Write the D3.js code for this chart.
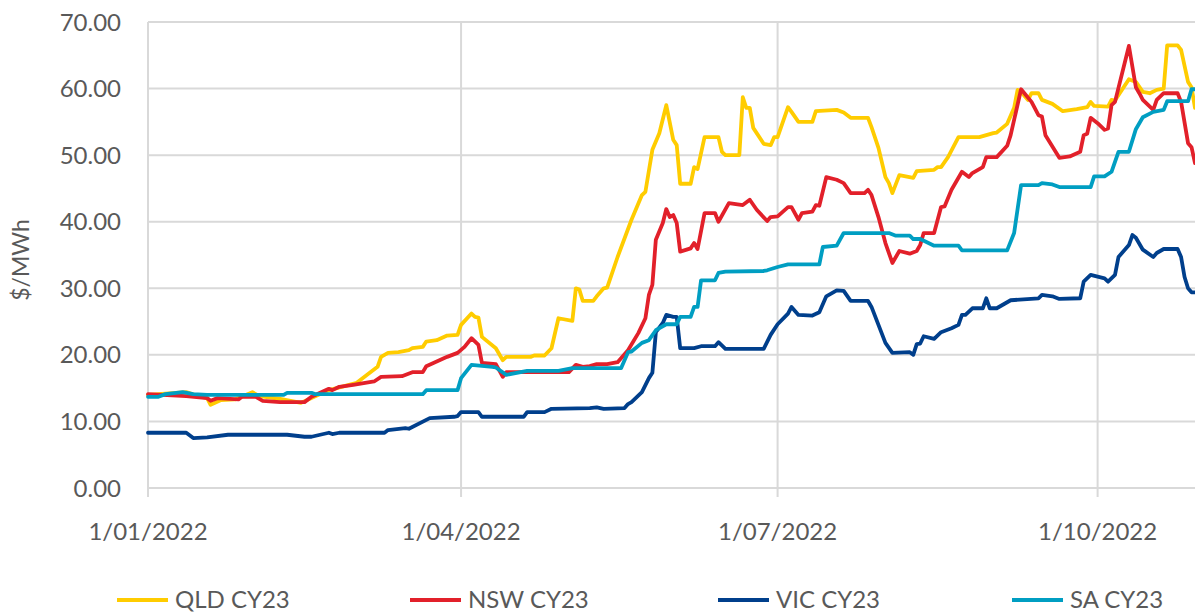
<!DOCTYPE html>
<html>
<head>
<meta charset="utf-8">
<script src="https://cdn.jsdelivr.net/npm/d3@7"></script>
<style>
  body { margin: 0; background: #ffffff; }
  svg text { font-family: Lato, "Open Sans", sans-serif; fill: #595959; }
</style>
</head>
<body>
<div id="chart"></div>
<script>
// days counted from 1/01/2022
const qldDay = [0, 6, 11, 14, 17, 18, 21, 25, 30, 32, 38, 44, 47, 52, 60, 63, 66, 67, 69, 72, 75, 76, 79, 80, 83, 86, 89, 90, 93, 94, 95, 96, 100, 102, 103, 110, 111, 114, 116, 118, 122, 123, 124, 125, 128, 129, 131, 132, 135, 139, 142, 143, 145, 147, 149, 151, 152, 153, 156, 157, 158, 160, 164, 165, 166, 170, 171, 172, 173, 174, 177, 179, 180, 181, 184, 185, 187, 191, 192, 198, 200, 202, 207, 208, 210, 212, 213, 214, 216, 220, 221, 226, 227, 228, 230, 233, 239, 243, 244, 247, 249, 250, 251, 253, 254, 256, 257, 260, 263, 267, 270, 271, 272, 276, 277, 278, 282, 284, 286, 288, 290, 292, 293, 296, 297, 299, 300, 301];
const qldVal = [14.0, 14.2, 14.4, 13.9, 13.5, 12.5, 13.2, 13.3, 14.4, 13.8, 13.4, 12.8, 13.5, 14.7, 15.8, 17.0, 18.2, 19.7, 20.3, 20.4, 20.7, 21.0, 21.2, 22.0, 22.2, 22.9, 23.0, 24.5, 26.2, 25.7, 25.6, 22.7, 21.0, 19.2, 19.7, 19.7, 19.9, 19.9, 21.0, 25.5, 25.1, 30.0, 29.8, 28.1, 28.1, 28.8, 30.0, 30.1, 34.7, 40.3, 44.0, 44.5, 50.8, 53.3, 57.5, 52.3, 51.5, 45.7, 45.7, 48.2, 47.9, 52.7, 52.7, 50.5, 50.0, 50.0, 58.7, 57.1, 57.1, 54.1, 51.7, 51.5, 52.7, 52.7, 57.2, 56.5, 55.0, 55.0, 56.6, 56.8, 56.4, 55.6, 55.6, 54.2, 51.1, 46.7, 45.8, 44.3, 47.0, 46.6, 47.6, 47.8, 48.2, 48.2, 49.7, 52.7, 52.7, 53.3, 53.4, 54.7, 57.1, 59.8, 59.5, 58.3, 59.3, 59.3, 58.3, 57.7, 56.6, 56.9, 57.2, 58.0, 57.4, 57.3, 58.3, 58.2, 61.4, 61.0, 59.5, 59.3, 59.8, 60.0, 66.5, 66.5, 65.8, 61.0, 60.2, 57.1];

const nswDay = [0, 11, 17, 18, 20, 26, 27, 31, 33, 38, 45, 47, 52, 53, 55, 59, 65, 67, 73, 76, 79, 80, 86, 89, 91, 93, 95, 96, 100, 102, 103, 121, 123, 125, 127, 129, 132, 135, 138, 141, 143, 144, 145, 146, 148, 149, 150, 151, 152, 153, 156, 157, 158, 160, 163, 164, 167, 171, 173, 175, 178, 179, 181, 184, 185, 187, 188, 191, 192, 193, 195, 198, 200, 202, 206, 207, 208, 210, 212, 214, 216, 219, 221, 222, 223, 226, 228, 229, 231, 234, 236, 237, 240, 241, 244, 247, 248, 251, 254, 256, 257, 258, 262, 265, 268, 269, 270, 271, 273, 275, 276, 277, 278, 282, 284, 285, 286, 289, 290, 292, 296, 297, 299, 300, 301];
const nswVal = [14.1, 13.8, 13.5, 13.1, 13.5, 13.3, 13.7, 13.7, 13.1, 12.9, 12.9, 13.7, 14.9, 14.7, 15.2, 15.5, 16.0, 16.7, 16.8, 17.4, 17.4, 18.3, 19.7, 20.3, 21.2, 22.5, 21.5, 18.8, 18.6, 16.7, 17.4, 17.4, 18.5, 18.2, 18.3, 18.6, 18.6, 18.9, 20.7, 23.3, 25.5, 29.0, 30.5, 37.3, 39.8, 41.9, 40.7, 41.0, 39.8, 35.5, 36.0, 36.8, 35.9, 41.3, 41.3, 40.0, 42.8, 42.5, 43.3, 41.8, 40.1, 40.7, 40.8, 42.2, 42.2, 40.3, 41.3, 41.5, 42.5, 42.4, 46.7, 46.3, 45.8, 44.3, 44.3, 44.8, 44.0, 40.7, 36.8, 33.8, 35.6, 35.2, 35.6, 36.5, 38.3, 38.3, 42.2, 42.3, 44.8, 47.5, 46.7, 47.3, 48.2, 49.7, 49.7, 51.4, 53.0, 59.9, 58.0, 56.0, 55.8, 53.0, 49.6, 49.8, 50.5, 53.0, 53.2, 55.6, 54.8, 53.8, 54.0, 57.5, 58.0, 66.4, 60.2, 59.3, 58.3, 56.8, 58.3, 59.3, 59.3, 58.0, 51.8, 51.2, 48.8];

const vicDay = [0, 11, 13, 17, 23, 40, 45, 47, 52, 53, 55, 68, 69, 74, 75, 81, 88, 89, 90, 95, 96, 108, 109, 114, 116, 127, 129, 131, 137, 138, 139, 142, 144, 145, 146, 148, 149, 151, 152, 153, 157, 159, 163, 164, 166, 177, 179, 181, 184, 185, 187, 191, 193, 195, 198, 200, 202, 207, 208, 212, 214, 219, 220, 221, 222, 223, 226, 228, 231, 233, 234, 235, 237, 240, 241, 242, 244, 248, 256, 257, 260, 262, 268, 269, 271, 275, 276, 278, 279, 282, 283, 284, 286, 289, 290, 292, 296, 297, 298, 299, 300, 301];
const vicVal = [8.3, 8.3, 7.5, 7.6, 8.0, 8.0, 7.7, 7.7, 8.3, 8.1, 8.3, 8.3, 8.7, 9.0, 8.9, 10.5, 10.7, 10.8, 11.4, 11.4, 10.7, 10.7, 11.4, 11.4, 11.9, 12.0, 12.1, 11.9, 12.0, 12.6, 12.9, 14.4, 16.5, 17.3, 23.4, 24.8, 26.0, 25.7, 25.7, 21.0, 21.0, 21.3, 21.3, 21.9, 20.9, 20.9, 23.0, 24.6, 26.2, 27.2, 26.0, 25.9, 26.4, 28.8, 29.7, 29.6, 28.1, 28.1, 27.2, 21.8, 20.3, 20.4, 20.0, 21.6, 21.7, 22.8, 22.4, 23.4, 24.0, 24.5, 26.0, 26.0, 27.0, 27.0, 28.5, 27.0, 27.0, 28.2, 28.5, 29.0, 28.8, 28.4, 28.5, 31.0, 32.0, 31.5, 31.0, 32.0, 34.7, 36.5, 38.0, 37.6, 35.8, 34.7, 35.3, 35.9, 35.9, 34.7, 31.7, 30.0, 29.4, 29.4];

const saDay = [0, 3, 5, 10, 13, 17, 39, 40, 47, 48, 79, 80, 89, 90, 93, 99, 100, 103, 109, 118, 122, 136, 138, 139, 142, 144, 146, 149, 152, 153, 156, 157, 158, 159, 163, 164, 166, 177, 178, 181, 184, 193, 194, 198, 200, 213, 215, 219, 220, 222, 226, 233, 234, 247, 249, 251, 256, 257, 260, 262, 271, 272, 275, 277, 279, 282, 284, 286, 289, 292, 293, 299, 300, 301];
const saVal = [13.7, 13.7, 14.1, 14.4, 14.1, 14.0, 14.0, 14.3, 14.3, 14.1, 14.1, 14.7, 14.7, 16.5, 18.5, 18.2, 18.1, 17.0, 17.6, 17.6, 18.0, 18.0, 20.4, 20.5, 21.8, 22.2, 23.7, 24.6, 24.6, 25.7, 25.7, 27.2, 27.2, 31.2, 31.2, 32.3, 32.5, 32.6, 32.7, 33.2, 33.6, 33.6, 36.2, 36.4, 38.3, 38.3, 37.9, 37.9, 37.4, 37.4, 36.4, 36.4, 35.7, 35.7, 38.3, 45.5, 45.5, 45.8, 45.6, 45.2, 45.2, 46.8, 46.8, 47.5, 50.5, 50.5, 53.9, 55.7, 56.5, 56.8, 58.1, 58.1, 59.9, 59.9];

const seriesNames = ["QLD CY23", "NSW CY23", "VIC CY23", "SA CY23"];
const seriesColors = ["#FFCC00", "#E2202A", "#003F8C", "#009EC2"];
const yTicks = [0, 10, 20, 30, 40, 50, 60, 70];
const xTicks = ["2022-01-01", "2022-04-01", "2022-07-01", "2022-10-01"];

const width = 1195, height = 612;
const start = new Date(2022, 0, 1);
const parse = d3.timeParse("%Y-%m-%d");

const svg = d3.select("#chart").append("svg")
    .attr("width", width)
    .attr("height", height);

const x = d3.scaleTime()
    .domain([start, d3.timeDay.offset(start, 301)])
    .range([148, 1195]);

const y = d3.scaleLinear()
    .domain([0, 70])
    .range([488, 22]);

// horizontal gridlines
svg.append("g").selectAll("line")
    .data(yTicks)
    .join("line")
    .attr("x1", 148)
    .attr("x2", width)
    .attr("y1", d => y(d))
    .attr("y2", d => y(d))
    .attr("stroke", "#d9d9d9")
    .attr("stroke-width", 2);

// vertical gridlines at quarter starts
svg.append("g").selectAll("line")
    .data(xTicks)
    .join("line")
    .attr("x1", d => x(parse(d)))
    .attr("x2", d => x(parse(d)))
    .attr("y1", y(70))
    .attr("y2", y(0) + 9)
    .attr("stroke", "#d9d9d9")
    .attr("stroke-width", 2);

// y tick labels
svg.append("g").selectAll("text")
    .data(yTicks)
    .join("text")
    .attr("x", 121)
    .attr("y", d => y(d))
    .attr("dy", "0.36em")
    .attr("text-anchor", "end")
    .attr("font-size", 24)
    .text(d => d3.format(".2f")(d));

// x tick labels
svg.append("g").selectAll("text")
    .data(xTicks)
    .join("text")
    .attr("x", d => x(parse(d)))
    .attr("y", 540)
    .attr("text-anchor", "middle")
    .attr("font-size", 24)
    .text(d => d3.timeFormat("%-d/%m/%Y")(parse(d)));

// axis title
svg.append("text")
    .attr("transform", "translate(29,260) rotate(-90)")
    .attr("text-anchor", "middle")
    .attr("font-size", 23)
    .text("$/MWh");

// the four series
const allSeries = [
    [qldDay, qldVal],
    [nswDay, nswVal],
    [vicDay, vicVal],
    [saDay, saVal]
];

const line = d3.line()
    .x(d => x(d3.timeDay.offset(start, d[0])))
    .y(d => y(d[1]));

allSeries.forEach((s, i) => {
    const pts = s[0].map((d, j) => [d, s[1][j]]);
    svg.append("path")
        .datum(pts)
        .attr("d", line)
        .attr("fill", "none")
        .attr("stroke", seriesColors[i])
        .attr("stroke-width", 3.8)
        .attr("stroke-linejoin", "round")
        .attr("stroke-linecap", "round");
});

// legend
const legendX = [117, 410, 718, 1012];
const legend = svg.append("g").selectAll("g")
    .data(seriesNames)
    .join("g")
    .attr("transform", (d, i) => `translate(${legendX[i]},600)`);

legend.append("line")
    .attr("x1", 0)
    .attr("x2", 51)
    .attr("stroke", (d, i) => seriesColors[i])
    .attr("stroke-width", 4);

legend.append("text")
    .attr("x", 58)
    .attr("y", 8)
    .attr("font-size", 24)
    .text(d => d);
</script>
</body>
</html>
